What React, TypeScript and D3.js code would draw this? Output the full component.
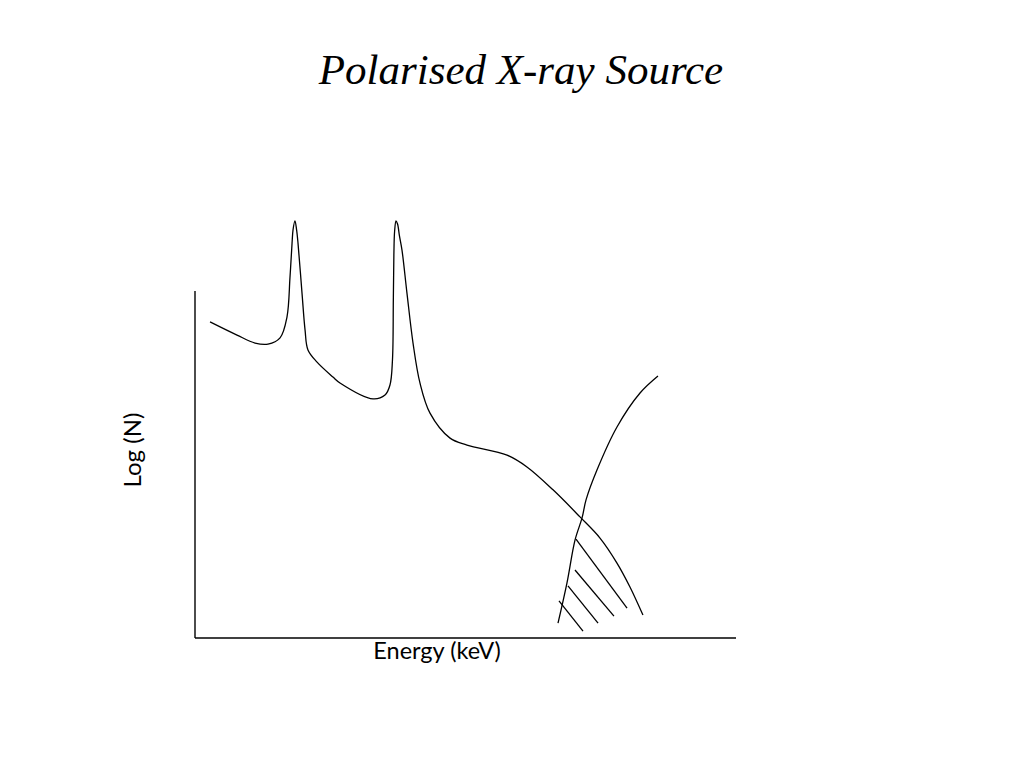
import React from "react";
import * as d3 from "d3";

// Energy (keV) values and Log(N) values of the source spectrum
const spectrumEnergy = [1.39, 3.88, 5.55, 6.75, 7.86, 8.5, 8.78, 8.97, 9.06, 9.24, 9.39, 9.52, 9.89, 10.17, 10.44, 11.28, 12.75, 13.4, 16.45, 17.56, 18.02, 18.25, 18.33, 18.38, 18.45, 18.58, 18.72, 18.9, 19.13, 19.59, 20.15, 20.79, 21.72, 23.57, 25.14, 28.84, 30.68, 33.09, 35.58, 37.43, 39.0, 40.2, 41.4];
const spectrumLogN = [9.11, 8.73, 8.5, 8.47, 8.65, 9.25, 10.4, 11.38, 11.76, 12.02, 11.76, 11.38, 9.94, 8.88, 8.3, 7.95, 7.52, 7.35, 6.89, 7.0, 7.29, 8.01, 9.74, 11.04, 11.73, 12.02, 11.93, 11.58, 11.18, 9.94, 8.5, 7.35, 6.48, 5.76, 5.56, 5.27, 4.93, 4.27, 3.49, 2.88, 2.16, 1.47, 0.66];

// Detector response curve
const responseEnergy = [33.55, 34.38, 35.12, 35.77, 36.14, 37.15, 39.0, 41.13, 42.79];
const responseLogN = [0.43, 1.59, 2.82, 3.46, 3.98, 4.84, 6.08, 7.06, 7.55];

// Hatch segments: start/end energy and logN
const hatchE0 = [35.21, 35.12, 34.47, 33.64];
const hatchE1 = [39.93, 38.72, 37.25, 35.86];
const hatchN0 = [2.85, 1.96, 1.5, 1.07];
const hatchN1 = [0.86, 0.63, 0.43, 0.2];

const xDomain = [0, 50];
const yDomain = [0, 10];

export default function App() {
  const W = 1024, H = 768;
  const x = d3.scaleLinear().domain(xDomain).range([195, 736]);
  const y = d3.scaleLinear().domain(yDomain).range([638, 291]);

  const spec = spectrumEnergy.map((e, i) => [e, spectrumLogN[i]] as [number, number]);
  const resp = responseEnergy.map((e, i) => [e, responseLogN[i]] as [number, number]);

  const line = d3
    .line<[number, number]>()
    .x((d) => x(d[0]))
    .y((d) => y(d[1]))
    .curve(d3.curveCatmullRom.alpha(0.5));

  return (
    <svg width={W} height={H} style={{ position: "absolute", left: 0, top: 0, background: "#fff" }}>
      <rect x={0} y={0} width={W} height={H} fill="#fff" />
      <text
        x={521}
        y={84}
        textAnchor="middle"
        fontFamily="'Liberation Serif', 'DejaVu Serif', serif"
        fontStyle="italic"
        fontSize={43}
        fill="#000"
      >
        Polarised X-ray Source
      </text>
      {/* axes */}
      <line x1={x(0)} y1={y(0)} x2={x(0)} y2={y(10)} stroke="#000" strokeWidth={1.4} />
      <line x1={x(0)} y1={y(0)} x2={x(50)} y2={y(0)} stroke="#000" strokeWidth={1.4} />
      <path d={line(spec) ?? ""} fill="none" stroke="#000" strokeWidth={1.3} />
      <path d={line(resp) ?? ""} fill="none" stroke="#000" strokeWidth={1.3} />
      {hatchE0.map((e, i) => (
        <line
          key={i}
          x1={x(e)}
          y1={y(hatchN0[i])}
          x2={x(hatchE1[i])}
          y2={y(hatchN1[i])}
          stroke="#000"
          strokeWidth={1.3}
        />
      ))}
      <text x={437} y={659} textAnchor="middle" fontFamily="Lato, 'Noto Sans', sans-serif" fontSize={23.5} fill="#000">
        Energy (keV)
      </text>
      <text
        transform="translate(141,450) rotate(-90)"
        textAnchor="middle"
        fontFamily="Lato, 'Noto Sans', sans-serif"
        fontSize={24}
        fill="#000"
      >
        Log (N)
      </text>
    </svg>
  );
}
